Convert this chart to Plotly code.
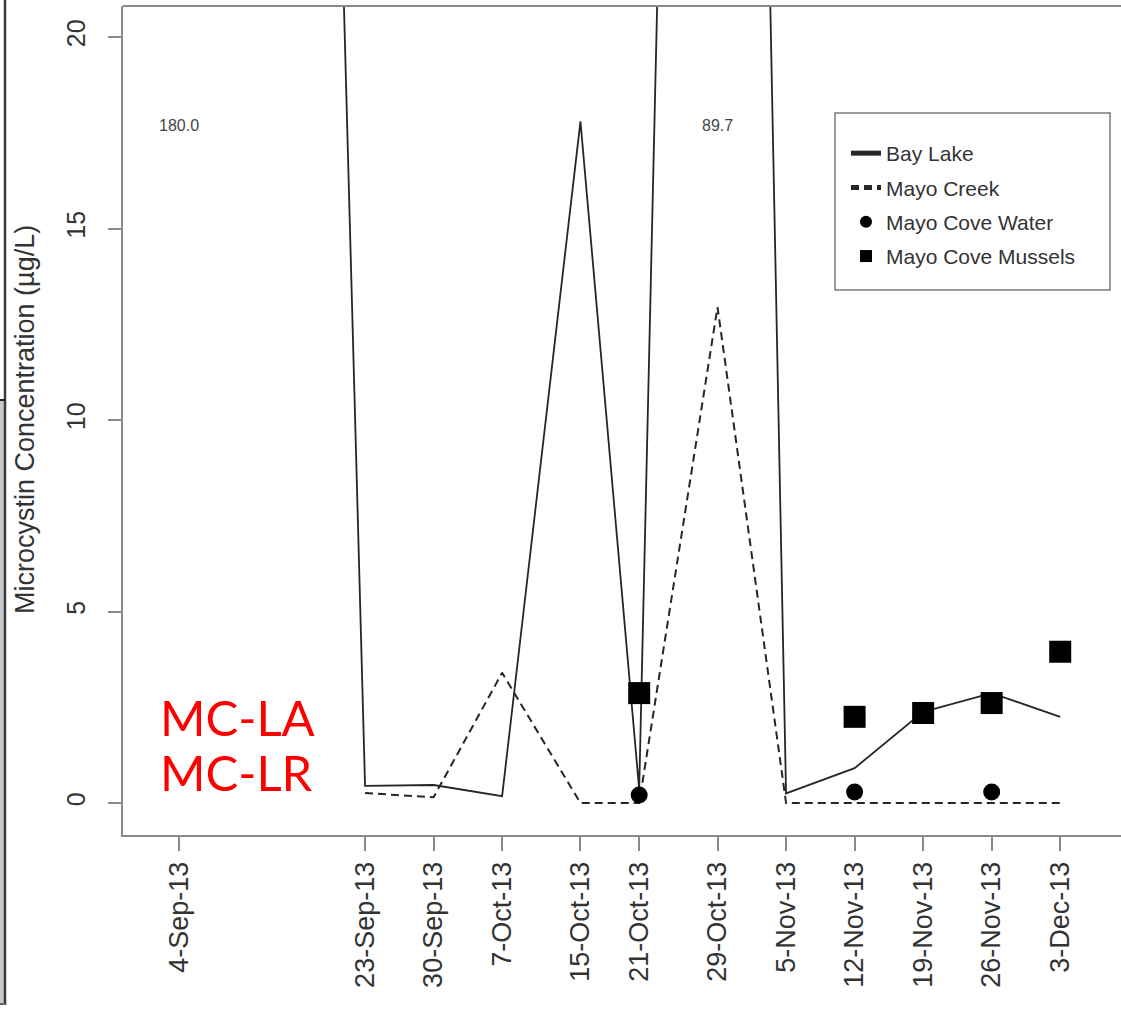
import plotly.graph_objects as go

# ---- data ----
dates = ["2013-09-04", "2013-09-23", "2013-09-30", "2013-10-07", "2013-10-15", "2013-10-21",
         "2013-10-29", "2013-11-05", "2013-11-12", "2013-11-19", "2013-11-26", "2013-12-03"]
tick_labels = ["4-Sep-13", "23-Sep-13", "30-Sep-13", "7-Oct-13", "15-Oct-13", "21-Oct-13",
               "29-Oct-13", "5-Nov-13", "12-Nov-13", "19-Nov-13", "26-Nov-13", "3-Dec-13"]
bay_lake = [180.0, 0.45, 0.47, 0.18, 17.8, 0.35, 89.7, 0.25, 0.91, 2.38, 2.87, 2.25]
mayo_creek = [None, 0.26, 0.15, 3.4, 0.0, 0.0, 12.95, 0.0, 0.0, 0.0, 0.0, 0.0]
water_dates = ["2013-10-21", "2013-11-12", "2013-11-26"]
mayo_cove_water = [0.21, 0.29, 0.29]
mussel_dates = ["2013-10-21", "2013-11-12", "2013-11-19", "2013-11-26", "2013-12-03"]
mayo_cove_mussels = [2.87, 2.25, 2.35, 2.61, 3.95]
y_ticks = [0, 5, 10, 15, 20]
y_max_display = 20.81
label_y = 17.7

FONT = "Liberation Sans, Arial, sans-serif"
AX = "#8a8a8a"

fig = go.Figure()
fig.add_trace(go.Scatter(x=dates, y=bay_lake, mode="lines", name="Bay Lake", legendgroup="a",
                         line=dict(color="#262626", width=1.8)))
fig.add_trace(go.Scatter(x=dates, y=mayo_creek, mode="lines", name="Mayo Creek", legendgroup="b",
                         line=dict(color="#262626", width=2, dash="8px,5px")))
fig.add_trace(go.Scatter(x=water_dates, y=mayo_cove_water, mode="markers", name="Mayo Cove Water",
                         legendgroup="c", marker=dict(symbol="circle", size=17, color="black")))
fig.add_trace(go.Scatter(x=mussel_dates, y=mayo_cove_mussels, mode="markers", name="Mayo Cove Mussels",
                         legendgroup="d", marker=dict(symbol="square", size=22, color="black")))

# off-scale value labels
for d, v in zip(dates, bay_lake):
    if v > y_max_display:
        fig.add_annotation(x=d, y=label_y, text=f"{v:.1f}", showarrow=False,
                           font=dict(family=FONT, size=16, color="#444444"))

W, H = 1121, 1013
L, R, T, B = 123, 0, 6, 178
pw, ph = W - L - R, H - T - B
def px(x): return (x - L) / pw
def py(y): return (H - B - y) / ph

fig.add_annotation(x=px(25), y=py(420), xref="paper", yref="paper", text="Microcystin Concentration (µg/L)",
                   textangle=-90, showarrow=False, xanchor="center", yanchor="middle",
                   font=dict(family=FONT, size=27, color="#333333"))
fig.add_annotation(x=px(158), y=py(717), xref="paper", yref="paper", text="MC-LA", showarrow=False,
                   xanchor="left", yanchor="middle", font=dict(family="Lato, sans-serif", size=49, color="#ff0000"))
fig.add_annotation(x=px(158), y=py(772), xref="paper", yref="paper", text="MC-LR", showarrow=False,
                   xanchor="left", yanchor="middle", font=dict(family="Lato, sans-serif", size=49, color="#ff0000"))

shapes = [
    dict(type="line", xref="paper", yref="paper", x0=0, x1=1, y0=1, y1=1, line=dict(color=AX, width=2)),
    dict(type="rect", xref="paper", yref="paper", x0=px(835), x1=px(1110), y0=py(290), y1=py(113),
         line=dict(color="#7a7a7a", width=1.5), fillcolor="rgba(0,0,0,0)"),
    # cropped neighbouring panel edge at far left
    dict(type="rect", xref="paper", yref="paper", x0=px(0), x1=px(4), y0=py(1004), y1=py(400),
         line=dict(width=0), fillcolor="#c8c8c8"),
    dict(type="line", xref="paper", yref="paper", x0=px(5), x1=px(5), y0=py(1005), y1=py(0),
         line=dict(color="#3a3a3a", width=2.5)),
    dict(type="line", xref="paper", yref="paper", x0=px(0), x1=px(5), y0=py(400), y1=py(400),
         line=dict(color="#222222", width=2)),
    dict(type="line", xref="paper", yref="paper", x0=px(0), x1=px(5), y0=py(1004), y1=py(1004),
         line=dict(color="#666666", width=2)),
]

fig.update_layout(
    width=W, height=H, margin=dict(l=L, r=R, t=T, b=B),
    paper_bgcolor="white", plot_bgcolor="white",
    font=dict(family=FONT, color="#333333"),
    shapes=shapes,
    showlegend=True,
    legend=dict(x=px(846), y=py(133), xanchor="left", yanchor="top", bgcolor="rgba(0,0,0,0)",
                borderwidth=0, font=dict(family=FONT, size=21, color="#333333"),
                itemsizing="constant", tracegroupgap=4, traceorder="grouped"),
    xaxis=dict(type="date", range=["2013-08-29 06:43", "2013-12-09 05:00"],
               tickvals=dates, ticktext=tick_labels, tickangle=-90,
               ticks="outside", ticklen=14, tickcolor=AX, tickwidth=2,
               tickfont=dict(family=FONT, size=27, color="#333333"),
               showline=True, linecolor=AX, linewidth=2, showgrid=False, zeroline=False),
    yaxis=dict(range=[-0.835, y_max_display], tickvals=y_ticks, ticktext=[str(v) for v in y_ticks],
               tickangle=-90, ticks="outside", ticklen=13, tickcolor=AX, tickwidth=2,
               tickfont=dict(family=FONT, size=25, color="#333333"), ticklabelstandoff=13,
               showline=True, linecolor=AX, linewidth=2, showgrid=False, zeroline=False),
)

fig.write_html("out.html")
